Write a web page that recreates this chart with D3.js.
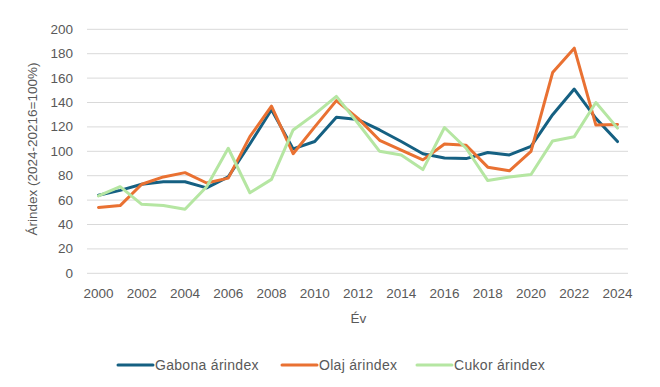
<!DOCTYPE html>
<html>
<head>
<meta charset="utf-8">
<script src="https://cdn.jsdelivr.net/npm/d3@7"></script>
<style>
  body { margin: 0; background: #fff; }
  text { font-family: "Liberation Sans", Arial, sans-serif; fill: #595959; }
</style>
</head>
<body>
<svg id="chart" width="660" height="387"></svg>
<script>
var years = d3.range(2000, 2025)
var gabona = [64, 68, 73, 75, 75, 70, 79, 106, 134, 102, 108, 128, 126, 117.5, 108, 98, 94.5, 94, 99, 97, 104, 130, 151, 127, 108]
var olaj = [54, 55.5, 73, 79, 82.5, 74, 78, 112, 137, 98, 120, 141.5, 127, 109, 101, 93, 106, 105, 87, 84, 100, 164.5, 184.5, 121.5, 122]
var cukor = [63.5, 71, 56.5, 55.5, 52.5, 71, 102.5, 66, 77, 117.5, 130.5, 145, 123, 100, 97, 85, 119.5, 102.5, 76, 79, 81, 108.5, 112, 140, 119]
var yTicks = d3.range(0, 201, 20)
var xTicks = d3.range(2000, 2025, 2)

var series = [
    {name: "Gabona árindex", values: gabona, color: "#156082"},
    {name: "Olaj árindex", values: olaj, color: "#e97132"},
    {name: "Cukor árindex", values: cukor, color: "#b5e6a2"}
]

var svg = d3.select("#chart")

var x = d3.scaleLinear().domain([2000, 2024]).range([98.5, 617.5])
var y = d3.scaleLinear().domain([0, 200]).range([273.3, 29.3])

// gridlines
svg.append("g").selectAll("line").data(yTicks)
    .enter().append("line")
    .attr("x1", 87).attr("x2", 628)
    .attr("y1", function(d){ return y(d) }).attr("y2", function(d){ return y(d) })
    .style("stroke", "#d9d9d9").style("stroke-width", 1)

// y labels
svg.append("g").selectAll("text").data(yTicks)
    .enter().append("text")
    .attr("x", 73).attr("y", function(d){ return y(d) + 4.5 })
    .attr("text-anchor", "end")
    .style("font-size", "13.5px")
    .text(function(d){ return d })

// x labels
svg.append("g").selectAll("text").data(xTicks)
    .enter().append("text")
    .attr("x", function(d){ return x(d) }).attr("y", 297.5)
    .attr("text-anchor", "middle")
    .style("font-size", "13.5px")
    .text(function(d){ return d })

svg.append("text")
    .attr("x", 358.5).attr("y", 323)
    .attr("text-anchor", "middle")
    .style("font-size", "13.5px")
    .text("Év")

svg.append("text")
    .attr("transform", "translate(36.5,149) rotate(-90)")
    .attr("text-anchor", "middle")
    .style("font-size", "13.5px")
    .text("Árindex (2024-20216=100%)")

var line = d3.line()
    .x(function(d, i){ return x(years[i]) })
    .y(function(d){ return y(d) })

svg.append("g").selectAll("path").data(series)
    .enter().append("path")
    .attr("d", function(d){ return line(d.values) })
    .style("fill", "none")
    .style("stroke", function(d){ return d.color })
    .style("stroke-width", 3)
    .style("stroke-linejoin", "round")
    .style("stroke-linecap", "round")

// legend
var legendX = [118, 282, 417]
var leg = svg.append("g").selectAll("g").data(series)
    .enter().append("g")
    .attr("transform", function(d, i){ return "translate(" + legendX[i] + ",365)" })
leg.append("line")
    .attr("x1", 0).attr("x2", 35).attr("y1", 0).attr("y2", 0)
    .style("stroke", function(d){ return d.color })
    .style("stroke-width", 3)
    .style("stroke-linecap", "round")
leg.append("text")
    .attr("x", 37).attr("y", 5)
    .style("font-size", "14px")
    .style("letter-spacing", "0.3px")
    .text(function(d){ return d.name })
</script>
</body>
</html>
